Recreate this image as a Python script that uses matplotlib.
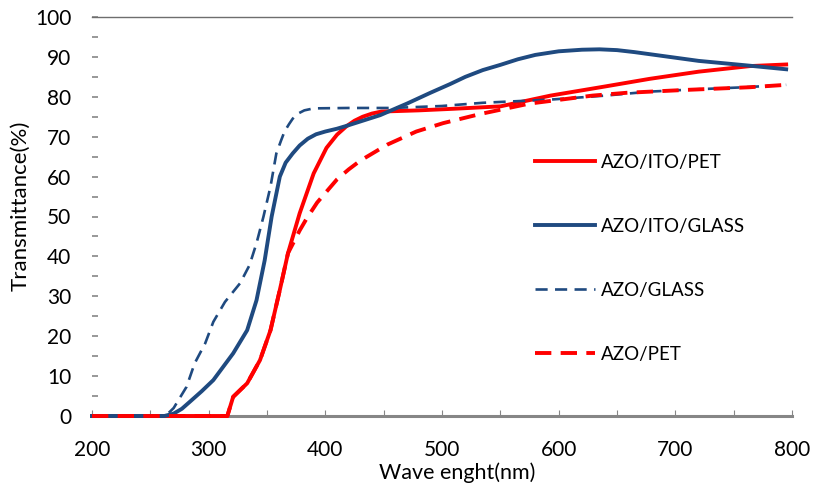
import matplotlib
matplotlib.use('Agg')
import matplotlib.pyplot as plt
from matplotlib.ticker import MultipleLocator

plt.rcParams['font.family'] = ['Lato', 'DejaVu Sans']

# AZO/ITO/PET (red solid)
wl_ito_pet = [200, 316, 321, 333, 344, 353, 361, 368, 378, 390, 401, 410, 418, 425,
              432, 440, 448, 480, 510, 550, 593, 640, 678, 720, 764, 795]
t_ito_pet = [0, 0, 4.8, 8.2, 14, 21.5, 31.6, 40.8, 50.8, 60.8, 67.2, 70.5, 72.6, 74,
             75, 75.8, 76.3, 76.6, 77, 77.6, 80.3, 82.6, 84.5, 86.3, 87.7, 88.1]

# AZO/ITO/GLASS (blue solid)
wl_ito_glass = [200, 262, 270, 277, 284, 294, 304, 321, 333, 341, 348, 354, 361, 366,
                372, 378, 385, 392, 400, 410, 418, 447, 470, 490, 507, 520, 535, 550,
                565, 580, 600, 620, 635, 650, 665, 690, 720, 760, 795]
t_ito_glass = [0, 0, 0.6, 1.8, 3.6, 6.2, 9.0, 15.7, 21.5, 29, 39, 50, 60, 63.5,
               65.8, 67.8, 69.5, 70.6, 71.3, 72, 72.7, 75.4, 78.3, 81, 83.2, 85, 86.7, 88,
               89.4, 90.5, 91.4, 91.8, 91.9, 91.7, 91.2, 90.2, 89, 87.9, 86.9]

# AZO/GLASS (blue dashed)
wl_glass = [200, 263, 270, 281, 288, 297, 304, 314, 327, 335, 341, 347, 353, 358,
            362, 365, 369, 372, 376, 382, 390, 420, 458, 500, 535, 593, 640, 678,
            720, 760, 795]
t_glass = [0, 0, 2, 7.3, 13.2, 18.2, 23.6, 28.6, 33.3, 37.8, 43.3, 50, 57.5, 65.8,
           69, 71.3, 73.2, 74.5, 75.7, 76.6, 77.1, 77.2, 77.2, 77.7, 78.5, 79.3, 80.3, 81.3,
           81.9, 82.4, 83]

# AZO/PET (red dashed)
wl_pet = [200, 316, 321, 333, 344, 353, 361, 368, 378, 384, 393, 410, 420, 430, 453,
          478, 501, 533, 575, 629, 658, 707, 764, 795]
t_pet = [0, 0, 4.8, 8.2, 14, 21.5, 31.6, 40.8, 46.5, 49.5, 53.5, 59.3, 61.8, 64, 68,
         71.3, 73.4, 75.7, 78.3, 80.3, 81, 81.7, 82.4, 83]

RED = '#FF0000'
BLUE = '#1F4A80'
GRAY = '#868686'

W, H = 813, 488
fig = plt.figure(figsize=(W / 100, H / 100), dpi=100)
ax = fig.add_axes([92 / W, (H - 416) / H, 700 / W, 399 / H])

ax.plot(wl_ito_pet, t_ito_pet, color=RED, lw=2.8, label='AZO/ITO/PET', clip_on=False)
ax.plot(wl_ito_glass, t_ito_glass, color=BLUE, lw=2.8, label='AZO/ITO/GLASS', clip_on=False)
ax.plot(wl_glass, t_glass, color=BLUE, lw=1.9, dashes=(4.6, 2.8), label='AZO/GLASS',
        clip_on=False)
ax.plot(wl_pet, t_pet, color=RED, lw=2.8, dashes=(4.2, 2.4), label='AZO/PET', clip_on=False)

ax.set_xlim(200, 800)
ax.set_ylim(0, 100)

ax.xaxis.set_major_locator(MultipleLocator(100))
ax.xaxis.set_minor_locator(MultipleLocator(50))
ax.yaxis.set_major_locator(MultipleLocator(10))
ax.yaxis.set_minor_locator(MultipleLocator(5))

ax.tick_params(axis='x', which='both', direction='in', length=4, width=0.8,
               color=GRAY, labelsize=15, pad=17)
ax.tick_params(axis='y', which='both', direction='in', length=4, width=1.2,
               color=GRAY, labelsize=15, pad=15)

for side in ('left', 'right'):
    ax.spines[side].set_visible(False)
ax.spines['top'].set_color('#6e6e6e')
ax.spines['top'].set_linewidth(1.0)
ax.spines['bottom'].set_color(GRAY)
ax.spines['bottom'].set_linewidth(2.2)
ax.spines['bottom'].set_zorder(1)

leg = ax.legend(loc='upper left', bbox_to_anchor=(535 / W, 1 - 154 / H),
                bbox_transform=fig.transFigure, frameon=False, fontsize=13.5,
                borderpad=0, borderaxespad=0, handlelength=3.2,
                handletextpad=0.3, labelspacing=2.5)

fig.text(20 / W, 1 - 206 / H, 'Transmittance(%)', rotation=90, fontsize=16,
         ha='center', va='center')
fig.text(457 / W, 1 - 473 / H, 'Wave enght(nm)', fontsize=15.5,
         ha='center', va='center')

fig.savefig('out.png', dpi=100)
